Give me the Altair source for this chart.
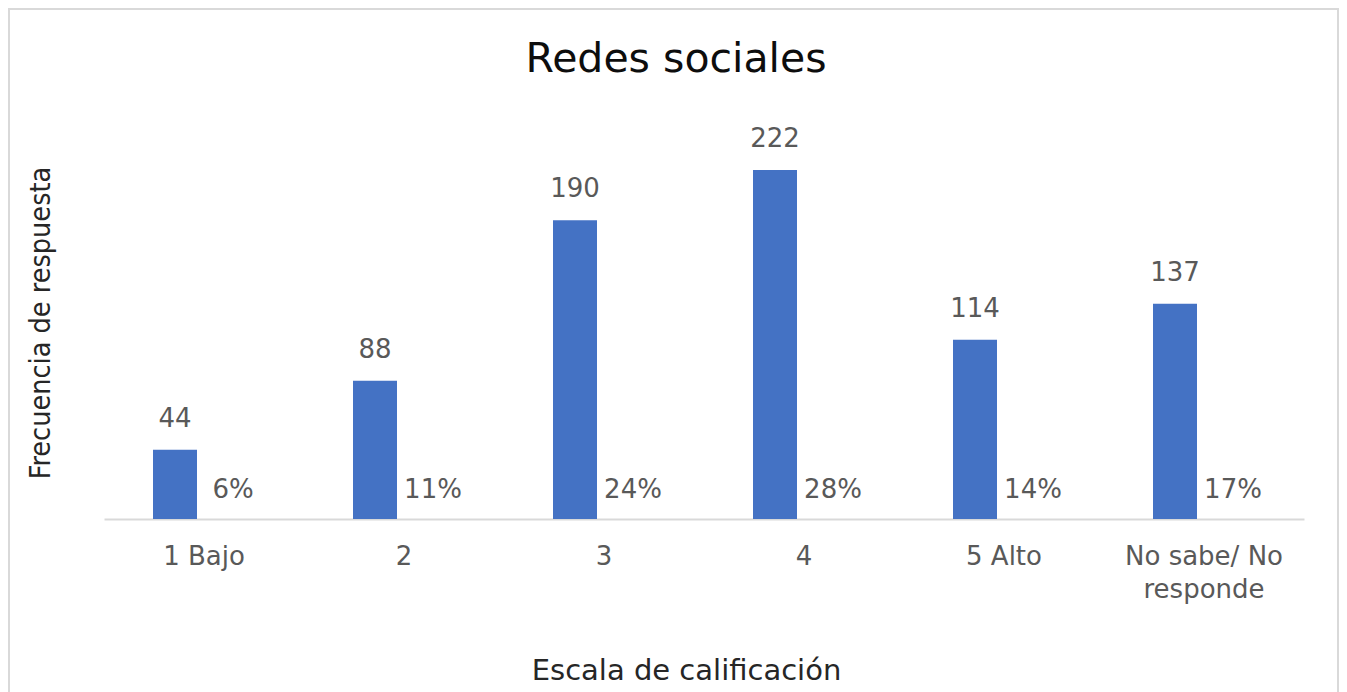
import altair as alt
import pandas as pd

categories = ["1 Bajo", "2", "3", "4", "5 Alto", "No sabe/ No responde"]
counts = [44, 88, 190, 222, 114, 137]
percents = [0.06, 0.11, 0.24, 0.28, 0.14, 0.17]
pct_labels = ["6%", "11%", "24%", "28%", "14%", "17%"]

df = pd.DataFrame({"cat": categories, "count": counts, "pct": percents, "pct_label": pct_labels})

FONT = "DejaVu Sans"
W, H = 1200, 393

xenc = alt.X("cat:N", sort=categories,
             scale=alt.Scale(paddingInner=0, paddingOuter=0),
             axis=alt.Axis(title="Escala de calificación", titleFontSize=29, titleFont=FONT,
                           titleFontWeight="normal", titleColor="#262626",
                           titleX=582, titleAlign="center",
                           titleY=151, titleBaseline="middle",
                           labelFont=FONT, labelFontSize=26, labelColor="#595959",
                           labelAngle=0, labelPadding=24, labelBaseline="top",
                           labelLineHeight=33,
                           labelExpr="datum.value == 'No sabe/ No responde' ? ['No sabe/ No', 'responde'] : datum.label",
                           ticks=False, domainColor="#d9d9d9", domainWidth=2, grid=False))
yscale = alt.Scale(domain=[0, 250], nice=False)
yenc = alt.Y("count:Q", scale=yscale,
             axis=alt.Axis(title="Frecuencia de respuesta", titleFont="DejaVu Sans Condensed, DejaVu Sans",
                           titleFontSize=28.5, titleFontWeight="normal", titleColor="#262626",
                           titleX=-64, titleY=H / 2, titleBaseline="middle",
                           labels=False, ticks=False, domain=False, grid=False))

base = alt.Chart(df)

border = base.mark_rect(fill=None, stroke="#d9d9d9", strokeWidth=2).encode(
    x=alt.value(-95), x2=alt.value(1234), y=alt.value(-117), y2=alt.value(H + 200)
).transform_filter("datum.cat == '1 Bajo'")

bars = base.mark_bar(color="#4472C4", width=44, xOffset=-29).encode(x=xenc, y=yenc)

count_text = base.mark_text(font=FONT, fontSize=26, color="#595959", dx=-29, dy=-31,
                            baseline="middle").encode(
    x=alt.X("cat:N", sort=categories), y=alt.Y("count:Q", scale=yscale), text="count:Q")

pct_text = base.mark_text(font=FONT, fontSize=26, color="#595959", dx=29, dy=-29,
                          baseline="middle").encode(
    x=alt.X("cat:N", sort=categories), y=alt.Y("pct:Q", scale=yscale), text="pct_label:N")

chart = alt.layer(border, bars, count_text, pct_text).properties(
    width=W, height=H,
    background="white",
    title=alt.TitleParams("Redes sociales", font=FONT, fontSize=41, fontWeight="normal",
                          color="#0d0d0d", anchor="middle", offset=0, dx=-28, dy=93,
                          baseline="middle"),
    autosize=alt.AutoSizeParams(type="none"),
    padding={"left": 96, "top": 118, "right": 35, "bottom": 173},
).configure_view(strokeWidth=0, stroke=None)

chart.save("out.html", embed_options={"renderer": "svg", "actions": False})
